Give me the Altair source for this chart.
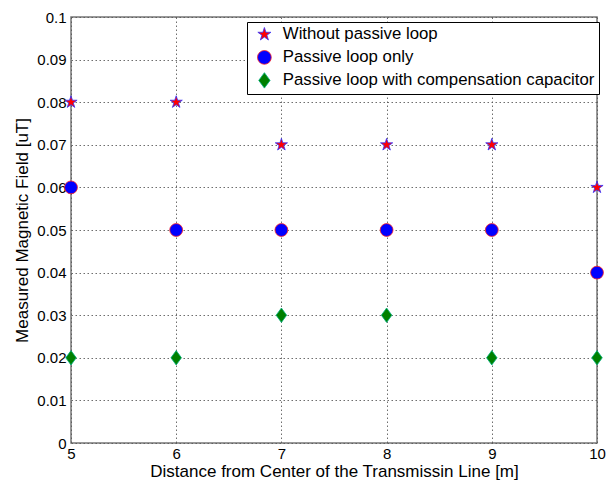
import altair as alt
import pandas as pd

distance = [5, 6, 7, 8, 9, 10]
without_loop = [0.08, 0.08, 0.07, 0.07, 0.07, 0.06]
passive_only = [0.06, 0.05, 0.05, 0.05, 0.05, 0.04]
with_capacitor = [0.02, 0.02, 0.03, 0.03, 0.02, 0.02]

series_names = [
    "Without passive loop",
    "Passive loop only",
    "Passive loop with compensation capacitor",
]
fill_colors = ["#ff0000", "#0000ff", "#008000"]
stroke_colors = ["#3030ff", "#ff2020", "#00b080"]

x_ticks = [5, 6, 7, 8, 9, 10]
y_ticks = [0, 0.01, 0.02, 0.03, 0.04, 0.05, 0.06, 0.07, 0.08, 0.09, 0.1]

star = ("M0,-1.0L0.224,-0.307L0.951,-0.309L0.361,0.117L0.588,0.809L0,0.38"
        "L-0.588,0.809L-0.361,0.117L-0.951,-0.309L-0.224,-0.307Z")
circle = "circle"
diamond = "M0,-1.12L0.82,0L0,1.12L-0.82,0Z"

rows = []
for name, vals in zip(series_names, [without_loop, passive_only, with_capacitor]):
    for d, v in zip(distance, vals):
        rows.append({"Distance": d, "Field": v, "Series": name})
df = pd.DataFrame(rows)

W, H = 526, 426
FONT = "Liberation Sans"

x_scale = alt.Scale(domain=[5, 10], nice=False, zero=False)
y_scale = alt.Scale(domain=[0, 0.1], nice=False)

legend = alt.Legend(
    title=None,
    orient="none",
    legendX=176,
    legendY=5,
    fillColor="white",
    strokeColor="black",
    padding=4,
    symbolOffset=5,
    labelOffset=10,
    labelFont=FONT,
    labelFontSize=16.8,
    labelColor="black",
    labelLimit=400,
    symbolSize=190,
    rowPadding=4,
    offset=0,
    symbolStrokeWidth=0.8,
)

points = alt.Chart(df).mark_point(filled=True, size=165, strokeWidth=0.8, opacity=1, clip=False).encode(
    x=alt.X("Distance:Q", scale=x_scale,
            axis=alt.Axis(values=x_ticks, title="Distance from Center of the Transmissin Line [m]",
                          grid=True, gridDash=[1.5, 2.5], gridColor="#555", gridOpacity=0.85,
                          ticks=False, labelPadding=3, domain=False, format="d",
                          labelFlush=False, titlePadding=2)),
    y=alt.Y("Field:Q", scale=y_scale,
            axis=alt.Axis(values=y_ticks, title="Measured Magnetic Field [uT]",
                          grid=True, gridDash=[1.5, 2.5], gridColor="#555", gridOpacity=0.85,
                          ticks=False, labelPadding=5, domain=False, titlePadding=5,
                          labelFlush=False, labelExpr="datum.value == 0 ? '0' : format(datum.value, '.2~f')")),
    color=alt.Color("Series:N", scale=alt.Scale(domain=series_names, range=fill_colors), legend=legend),
    fill=alt.Fill("Series:N", scale=alt.Scale(domain=series_names, range=fill_colors), legend=legend),
    stroke=alt.Stroke("Series:N", scale=alt.Scale(domain=series_names, range=stroke_colors), legend=legend),
    shape=alt.Shape("Series:N", scale=alt.Scale(domain=series_names, range=[star, circle, diamond]), legend=legend),
)

chart = points.properties(width=W, height=H).configure(
    autosize=alt.AutoSizeParams(type="none"),
    padding={"left": 71, "top": 17, "right": 17, "bottom": 42},
).configure_axis(
    labelFont=FONT, labelFontSize=15, labelColor="black",
    titleFont=FONT, titleFontSize=17, titleColor="black", titleFontWeight="normal",
).configure_view(
    stroke="#777", strokeWidth=1.5,
)

chart.save("out.html", embed_options={"renderer": "svg", "actions": False})
